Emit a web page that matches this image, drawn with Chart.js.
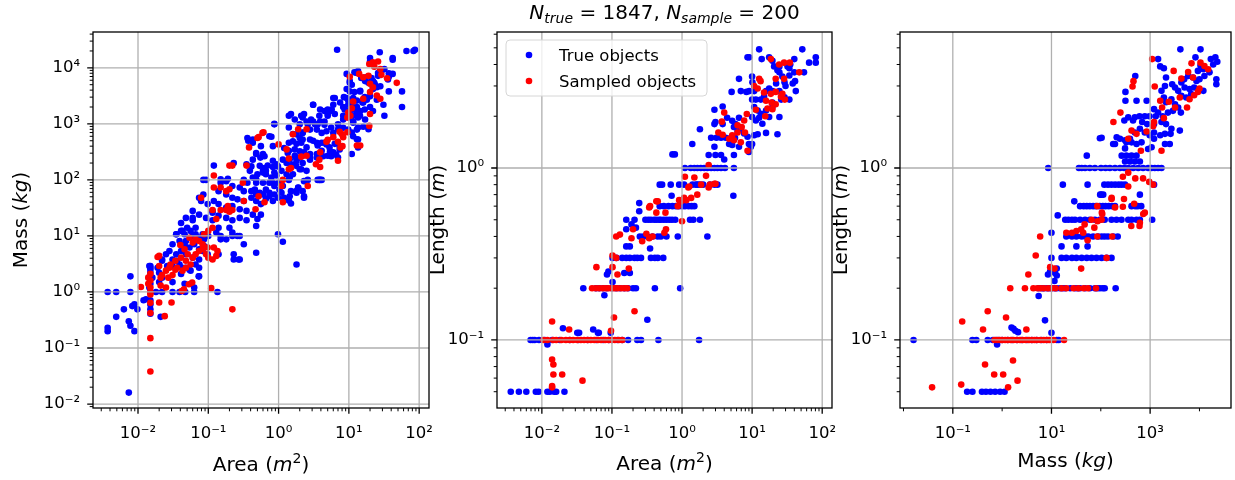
<!DOCTYPE html>
<html>
<head>
<meta charset="utf-8">
<script src="https://cdn.jsdelivr.net/npm/chart.js@4/dist/chart.umd.min.js"></script>
<style>
  body { margin: 0; background: #fff; }
  #wrap { position: relative; width: 1235px; height: 480px; overflow: hidden; }
  canvas { position: absolute; top: 0; }
</style>
</head>
<body>
<div id="wrap">
  <canvas id="c1" width="431" height="480" style="left:3px"></canvas>
  <canvas id="c2" width="430" height="480" style="left:407px"></canvas>
  <canvas id="c3" width="425" height="480" style="left:810px"></canvas>
</div>
<script>
// axis ranges and tick labels
const areaRange = [0.00229, 138];
const massRange = [0.0085, 43600];
const lengthRange = [0.0402, 6.18];
const areaTicks = [1e-2, 1e-1, 1, 10, 100];
const massTicks = [1e-2, 1e-1, 1, 10, 100, 1e3, 1e4];
const massTicksWide = [1e-1, 10, 1e3];
const massMinorWide = [1e-2, 1, 100, 1e4];
const lengthTicks = [0.1, 1];
const seriesNames = ['True objects', 'Sampled objects'];
const titleCounts = { nTrue: 1847, nSample: 200 };

// Area (m^2) vs Mass (kg)
const areaMassTrue = [
  [6.8,2.1e4],[27.5,1.9e4],[66,2e4],[83,2e4],[87,2.1e4],[20,1.5e4],[20,1.3e4],[42,1.5e4],[42,1.4e4],[32,9.5e3],
  [37,8e3],[42,7.8e3],[37,6.9e3],[28,8.9e3],[26,7.2e3],[9.3,7.8e3],[12,8.3e3],[13.5,8.8e3],[15,6.6e3],[17,5.8e3],
  [17.5,6.8e3],[22,5.8e3],[23.5,5e3],[22,4.2e3],[25,4.5e3],[10.3,5.8e3],[11,5e3],[9.3,4.2e3],[12,3.7e3],[14.5,3.9e3],
  [16.8,3e3],[20,3.1e3],[15.6,2.4e3],[37,3.8e3],[57,3.8e3],[57,2e3],[25,2.7e3],[31,2.2e3],[32,1.4e3],[6,2.9e3],
  [7.5,2.4e3],[8.5,3e3],[9.8,2.6e3],[11.5,2.9e3],[13,2.6e3],[8.3,2e3],[9.8,1.7e3],[11,2.1e3],[13,2e3],[14.5,1.7e3],
  [16.8,1.8e3],[20,2e3],[22,1.7e3],[3.1,2.2e3],[4.5,1.7e3],[5,1.8e3],[5.7,1.8e3],[3.8,1.4e3],[5,1.4e3],[6.3,1.5e3],
  [1.4,1.4e3],[1.7,1.2e3],[2.1,1.4e3],[2.5,1.1e3],[2.9,1.2e3],[3.3,980],[3.9,1.1e3],[4.5,960],[5.6,860],[7,980],
  [8.3,1.2e3],[9.8,1.3e3],[11.5,1.05e3],[13.5,860],[16,890],[19,800],[11,700],[13,530],[13.5,380],[11,290],[11.5,1.4e3],
  [21,6.6e3],[26,8.1e3],[29,8.7e3],[19,5.4e3],[23,5.4e3],[22,4.4e3],[28,4.7e3],[36,6.2e3],[10.3,5.4e3],[10.3,3.8e3],
  [13,8.1e3],[14.4,3.8e3],[18,2.7e3],[16,2.4e3],[11.5,2.7e3],[9.3,2.9e3],[9.8,2.2e3],[8.7,1.8e3],[11.5,1.8e3],[13,1.6e3],
  [14.4,1.4e3],[10.3,1.5e3],[8.3,1.4e3],[6.3,2.9e3],[6,2.2e3],[5.4,1.7e3],[5,1.5e3],[3.9,1.8e3],[3.1,2.2e3],[4.5,1.1e3],
  [3.6,980],[3.1,1.1e3],[2.3,1.5e3],[2.2,1.3e3],[2.6,980],[2,980],[1.5,1.5e3],[0.87,1e3],[2.2,690],[2.8,790],
  [3.5,790],[4.1,690],[4.8,740],[6,690],[7,790],[8.3,850],[9.8,790],[11.5,1.1e3],[13.5,1.3e3],[17,1.2e3],
  [13,790],[13.5,525],[11.5,600],[7.4,400],[5.4,325],[4.8,430],[4.1,460],[3.5,460],[2.8,525],[2.2,525],
  [1.8,650],[1.6,490],[1.4,460],[1.2,370],[1.7,350],[2,325],[1.8,245],[1.6,187],[2.2,200],[2.8,230],
  [4.3,265],[5.6,265],[6.6,282],[1.35,302],[1.15,230],[0.98,174],[0.87,135],[0.63,163],[0.6,135],[0.48,102],
  [0.46,67],[0.54,59],[0.66,67],[0.83,89],[1.03,67],[0.74,51],[1.44,110],[1.9,72],[2.3,95],[3.6,100],
  [4.1,100],[1.44,51],[1.8,59],[0.43,525],[0.48,302],[0.56,400],[0.74,600],[0.83,400],[0.63,265],[0.41,174],
  [0.87,980],[0.36,560],[0.37,500],[0.43,460],[0.79,590],[1.4,860],[1.6,660],[2,560],[2.2,700],[1.8,440],
  [2.1,460],[2.5,380],[3.1,500],[3.6,410],[4.5,460],[5.3,380],[6.3,440],[7.4,350],[1.4,330],[1.7,270],
  [2,250],[2.3,310],[2.8,250],[3.5,290],[4.1,330],[5,270],[6,310],[7,250],[1.3,200],[1.5,180],
  [1.8,220],[2,155],[1.6,126],[1.3,126],[1.4,100],[2.6,100],[3.8,100],[1.5,63],[1.9,73],[2.2,63],
  [1.4,43],[1.5,38],[2.3,48],[1.44,234],[1.78,250],[2.2,270],[2.8,290],[3.5,250],[1.78,178],[2.1,155],
  [2.5,145],[3.9,100],[1.78,63],[2.3,51],[0.48,290],[0.6,290],[0.43,230],[0.55,250],
  [0.83,220],[0.93,190],[0.83,170],[0.7,180],[0.6,145],[0.5,126],[0.66,126],[0.79,110],[0.93,120],[1.1,145],
  [0.39,145],[0.43,110],[0.36,89],[0.32,100],[0.48,89],[0.6,89],[0.74,89],[0.87,78],[1.0,89],[1.15,78],
  [0.23,200],[0.12,180],[0.085,100],[0.093,100],[0.18,95],[0.15,89],[0.22,78],[0.28,73],[0.32,63],[0.41,63],
  [0.48,55],[0.6,55],[0.74,59],[0.87,55],[1.1,59],[1.2,48],[0.14,63],[0.18,55],[0.22,48],[0.26,45],
  [0.32,42],[0.41,48],[0.48,42],[0.56,37],[0.66,46],[0.83,42],[0.98,48],[0.12,42],[0.14,37],[0.18,32],
  [0.22,34],[0.28,30],[0.35,28],[0.43,24],[0.5,20],[0.56,24],[0.48,15],[0.115,28],[0.14,23],[0.18,21],
  [0.22,19],[0.28,21],[0.35,19],[0.2,14],[0.22,11.5],[0.14,14],[0.115,19],[0.093,21],[0.074,24],[0.06,19],
  [0.083,10.7],[0.06,28],[0.079,42],[0.085,55],[0.06,21],[0.05,14],[0.041,12.3],[0.035,10.7],[0.046,10.7],[0.056,12.3],
  [0.066,10.7],[0.074,9.3],[0.087,8.7],[0.1,10],[0.13,11.5],[0.15,10],[0.18,8.7],[0.22,10],[0.26,10],[0.28,10],
  [0.15,102],[0.19,105],[0.35,190],[0.54,178],[0.66,145],[0.115,26],[0.098,37],[0.074,48],[0.048,21],[0.041,17],
  [0.32,7.1],[0.48,5],[0.23,4.7],[0.28,3.8],[0.98,10.7],[1.15,7.9],[1.8,3.1],[0.031,7.1],[0.039,8.1],[0.046,7.1],
  [0.054,6.2],[0.063,7.1],[0.074,5.8],[0.087,6.6],[0.098,4.7],[0.074,3.8],[0.06,4.1],[0.048,4.7],[0.041,5.4],[0.035,4.7],
  [0.031,3.8],[0.039,3.1],[0.048,2.7],[0.056,2.4],[0.074,2.7],[0.073,1.9],[0.025,4.7],[0.022,3.6],[0.026,2.9],[0.019,2.7],
  [0.02,2.2],[0.015,2.9],[0.015,2.5],[0.031,1.5],[0.041,2.1],[0.046,1.4],[0.063,1.2],[0.035,10.7],[0.043,12.3],[0.048,8.1],
  [0.06,10],[0.066,14],[0.079,8.1],[0.083,5.4],[0.066,3.1],[0.054,2.5],[0.043,2.7],[0.036,3.6],[0.031,2.9],[0.028,5.4],
  [0.022,1.8],[0.02,1.5],[0.016,1.8],[0.015,2.7],[0.022,3.8],[0.15,8.7],[0.14,4.7],[0.074,1.9],[0.23,3.8],[0.27,3.8],
  [0.0145,2.9],[0.015,2.2],[0.015,1.7],[0.015,1.4],[0.0145,1.2],
  [0.0037,1],[0.0049,1],[0.0078,1],[0.015,1],[0.018,1],[0.022,1],[0.031,1],[0.039,1],[0.047,1],[0.063,1],[0.135,1],
  [0.0078,1.9],[0.013,0.74],[0.012,0.71],[0.015,0.71],[0.015,0.6],[0.0089,0.6],[0.0098,0.49],[0.0063,0.49],[0.0049,0.36],[0.0083,0.56],
  [0.0074,0.3],[0.0078,0.25],[0.0037,0.23],[0.0037,0.2],[0.0089,0.2],[0.015,0.49],[0.015,0.41],[0.021,0.36],[0.0074,0.016]
];
const areaMassSampled = [
  [0.015,0.038],[0.015,0.15],[0.015,0.42],[0.024,0.37],[0.03,0.65],[0.02,0.65],[0.22,0.49],[0.11,1.17],[0.011,1.23],[0.014,1.8],
  [0.014,1.4],[0.015,1.2],[0.015,1.0],[0.015,0.9],[0.015,0.64],[0.015,2.1],[0.015,1.6],[0.019,4.2],[0.021,1.8],[0.022,2],
  [0.025,2.4],[0.028,2.7],[0.031,2],[0.021,1.3],[0.025,1.2],[0.029,3.1],[0.034,3.6],[0.041,4.1],[0.048,3.6],[0.056,3.1],
  [0.04,6.9],[0.046,5.8],[0.051,4.7],[0.06,4.1],[0.048,2.7],[0.043,2.4],[0.036,2.7],[0.02,4.4],[0.02,2.9],[0.034,2.5],
  [0.027,1.8],[0.053,1.37],[0.059,1.47],[0.045,1.12],[0.042,1.04],[0.066,4.7],[0.074,5.4],[0.083,5.8],[0.093,4.7],[0.1,4.1],
  [0.115,3.8],[0.13,4.4],[0.135,5.4],[0.12,6.2],[0.098,6.2],[0.083,7.1],[0.074,8.1],[0.066,8.7],[0.06,7.6],[0.054,9.3],
  [0.087,10.7],[0.1,12.3],[0.115,14],[0.13,20],[0.115,29],[0.12,73],[0.12,120],[0.079,48],[0.15,29],[0.18,29],
  [0.2,27],[0.19,34],[0.22,29],[0.15,73],[0.18,63],[0.2,68],[0.2,180],[0.22,180],[0.35,180],[0.38,380],
  [0.52,580],[0.61,710],[0.31,89],[0.32,42],[0.47,30],[0.63,40],[0.52,51],[1.15,40],[1.0,430],[1.3,350],
  [1.6,650],[1.9,800],[2.5,800],[1.4,155],[2.1,260],[2.5,270],[3.4,190],[3.9,170],[3.8,230],[3.9,310],
  [4.8,480],[6,580],[7,480],[7.6,380],[8.3,580],[9.5,710],[7.9,660],[9.5,1300],[9.8,1600],[10.5,1400],
  [11,1900],[13,410],[14.5,410],[19.5,920],[20,1500],[7,220],[8.1,400],[5,520],[7.4,720],[1.4,240],
  [1.5,163],[1.15,100],[1.1,78],[2.6,78],[0.59,690],[0.5,560],
  [10.3,6900],[14,7800],[16,6800],[19,7200],[20,5200],[22,4500],[25,3200],[28,2800],[19.5,1.17e4],[22,1.25e4],
  [26,1.3e4],[23,1.05e4],[28,9500],[29,7500],[35,6500],[48,5400],[16,2800],[20,3700],[11.5,2500]
];

// Area (m^2) vs Length (m)
const areaLengthTrue = [
  [0.0036,0.05],[0.0047,0.05],[0.006,0.05],[0.0082,0.05],[0.009,0.05],[0.012,0.05],[0.013,0.05],[0.015,0.05],[0.016,0.05],[0.021,0.05],
  [0.0069,0.1],[0.0074,0.1],[0.0079,0.1],[0.0091,0.1],[0.011,0.1],[0.014,0.1],[0.018,0.1],[0.025,0.1],[0.033,0.1],[0.045,0.1],
  [0.06,0.1],[0.075,0.1],[0.09,0.1],[0.1,0.1],[0.12,0.1],[0.14,0.1],[0.17,0.1],[0.23,0.1],[0.26,0.1],[0.46,0.1],[1.75,0.1],
  [0.012,0.094],[0.02,0.117],[0.032,0.11],[0.034,0.11],[0.054,0.115],[0.063,0.11],[0.065,0.11],[0.096,0.11],[0.32,0.131],
  [0.039,0.2],[0.059,0.2],[0.066,0.2],[0.075,0.2],[0.085,0.2],[0.1,0.2],[0.115,0.2],[0.13,0.2],[0.15,0.2],[0.17,0.2],
  [0.2,0.2],[0.22,0.2],[0.41,0.2],[0.94,0.2],[0.078,0.182],[0.102,0.217],[0.085,0.24],[0.089,0.25],[0.15,0.245],[0.18,0.245],
  [0.102,0.3],[0.116,0.3],[0.14,0.3],[0.16,0.3],[0.18,0.3],[0.21,0.3],[0.23,0.3],[0.26,0.3],[0.36,0.3],[0.41,0.3],
  [0.45,0.3],[0.54,0.3],[0.16,0.35],[0.18,0.35],[0.35,0.34],
  [0.25,0.4],[0.28,0.4],[0.32,0.4],[0.38,0.4],[0.45,0.4],[0.5,0.4],[0.6,0.4],[0.87,0.4],[2.3,0.4],
  [0.16,0.44],[0.16,0.5],[0.19,0.47],[0.22,0.45],[0.21,0.5],[0.245,0.56],[0.245,0.625],[0.71,0.69],
  [0.3,0.5],[0.33,0.5],[0.36,0.5],[0.4,0.5],[0.43,0.5],[0.47,0.5],[0.5,0.5],[0.55,0.5],[0.6,0.5],[0.66,0.5],
  [0.72,0.5],[0.8,0.5],[1.3,0.5],[1.45,0.5],[1.8,0.5],
  [0.48,0.6],[0.55,0.6],[0.64,0.6],[0.73,0.6],[0.82,0.6],[0.9,0.6],[1.0,0.6],[1.1,0.6],[1.24,0.6],[1.37,0.6],[1.5,0.6],[5.4,0.69],
  [0.48,0.8],[0.52,0.8],[0.69,0.8],[0.91,0.8],[1.07,0.8],[1.41,0.8],[1.58,0.8],[1.66,0.8],[1.78,0.8],[2.0,0.8],
  [2.5,0.8],[2.9,0.8],[3.2,0.8],
  [1.1,1],[1.33,1],[1.5,1],[1.66,1],[1.85,1],[2.07,1],[2.3,1],[2.6,1],[2.9,1],[3.2,1],[3.6,1],[4.1,1],[5.5,1],
  [0.73,1.2],[0.79,1.2],[1.4,1.38],[1.8,1.68],[2.4,1.19],[2.9,1.33],[3,1.19],[3.6,1.19],[4,1.12],[2.6,1.5],
  [3.1,1.5],[3.6,1.5],[4.2,1.5],[5,1.5],[5.7,1.5],[2.9,2.18],[3.8,2.28],[2.9,1.8],[4.4,1.96],[5.2,1.88],
  [5.8,1.8],[6.5,1.96],[5.5,1.73],[6.2,1.64],[6.9,1.69],[7.7,1.59],[8.6,1.52],[9,1.38],[10,1.38],[4.7,1.38],
  [5.2,1.36],[6.5,1.33],[5.5,1.19],[9,1.24],[9.6,1.33],[6.9,2.8],[9.1,2.8],[10.1,3.15],[9.1,4.4],[12.6,4.9],
  [13.7,4.3],[6.5,3.3],[10,3.4],[10.7,2.8],[17.5,4.4],[19.5,4.2],[20.6,3.9],[23,3.7],[24.5,3.6],[27,3.4],
  [29,3.15],[30,3.0],[34,3.45],[40,3.6],[41,3.2],[38,3.1],[42,2.8],[22,3.1],[19.5,2.8],[17.5,2.9],
  [15.8,2.8],[14.8,2.6],[13.3,2.5],[11.3,2.5],[10.7,2.26],[12,2.16],[13.3,2.07],[12.6,1.96],[11.3,1.89],[10,1.98],
  [14,1.81],[12,1.57],[23,1.57],[24.5,2.8],[29,2.58],[34,2.5],[26,2.5],[19.5,2.4],[17.5,1.98],[19.5,2.26],
  [24.5,1.98],[15.8,2.16],[52,4.9],[65,4.1],[81,4.4],[81,4.1],[40,4.3],[35,4.0],[34,3.8],[32,3.9],
  [55,3.6],[24.5,3.9],[15.8,1.6],[10.7,1.55],[10,2.5],[5.1,2.77],[8.3,2.77],[3.0,1.85],[3.8,1.8],[8.6,4.4]
];
const areaLengthSampled = [
  [0.0105,0.1],[0.012,0.1],[0.0145,0.1],[0.016,0.1],[0.019,0.1],[0.022,0.1],[0.025,0.1],[0.028,0.1],[0.032,0.1],[0.036,0.1],
  [0.04,0.1],[0.045,0.1],[0.05,0.1],[0.056,0.1],[0.063,0.1],[0.07,0.1],[0.08,0.1],[0.09,0.1],[0.1,0.1],[0.11,0.1],
  [0.125,0.1],[0.14,0.1],
  [0.014,0.077],[0.0146,0.072],[0.0146,0.063],[0.0195,0.063],[0.038,0.058],[0.014,0.054],[0.014,0.053],[0.014,0.128],[0.0245,0.115],[0.107,0.135],
  [0.21,0.147],[0.097,0.113],
  [0.052,0.2],[0.059,0.2],[0.066,0.2],[0.074,0.2],[0.082,0.2],[0.09,0.2],[0.1,0.2],[0.11,0.2],[0.12,0.2],[0.135,0.2],
  [0.15,0.2],[0.165,0.2],[0.102,0.265],[0.06,0.265],[0.12,0.24],[0.174,0.26],[0.102,0.31],[0.115,0.3],
  [0.115,0.4],[0.13,0.41],[0.19,0.39],[0.2,0.44],[0.27,0.375],[0.31,0.415],[0.38,0.4],[0.34,0.39],[0.59,0.44],[0.56,0.42],
  [1.0,0.49],[0.34,0.59],[0.43,0.55],[0.45,0.64],[0.58,0.55],[0.87,0.6],[0.97,0.64],[1.15,0.65],[1.35,0.67],[1.65,0.7],
  [0.35,0.6],[0.43,0.64],[1.27,0.78],[1.87,0.8],[2.9,0.81],[2.5,0.8],
  [18.5,4.3],[24.3,4.0],[28.6,4.1],[34.5,4.1],[47,3.6],[21.7,3.3],[28.6,3.3],[12.6,3.3],[13.2,3.2],[10.7,3.0],
  [12,2.9],[14.8,2.75],[18.5,2.7],[21.7,2.77],[27,2.7],[25.8,2.6],[15.8,2.46],[19,2.4],[29.3,2.5],[16.6,2.22],
  [19.5,2.2],[21.7,2.35],[11.3,2.18],[15.4,2.0],[8.4,2.06],[7.7,1.89],[7.1,1.73],[7.9,1.61],[6.2,1.77],[5.2,1.55],
  [4.7,1.48],[5.5,1.45],[6.2,1.61],[8.6,1.26],[6.9,1.41],[4,2.1],[3.7,1.86],[3.3,1.61],[3.8,1.56],[2.4,1.04],
  [1.1,0.89],[1.5,0.88],[2.2,0.9],[3,0.81],[2.4,0.77],[1.23,0.77],[1.07,0.67],[0.91,0.65]
];

// Mass (kg) vs Length (m)
const massLengthTrue = [
  [0.195,0.05],[0.25,0.05],[0.39,0.05],[0.47,0.05],[0.58,0.05],[0.72,0.05],[0.91,0.05],[1.12,0.05],
  [0.016,0.1],[0.25,0.1],[0.3,0.1],[0.51,0.1],[0.65,0.1],[0.75,0.1],[0.85,0.1],[1,0.1],[1.3,0.1],[1.6,0.1],
  [2,0.1],[2.5,0.1],[3.2,0.1],[4,0.1],[5,0.1],[6.3,0.1],[8,0.1],[10,0.1],[12.8,0.1],[14,0.1],
  [0.79,0.094],[1.55,0.118],[1.7,0.116],[1.85,0.113],[2.1,0.111],[7.4,0.13],[10,0.11],
  [5.5,0.2],[6.4,0.2],[7,0.2],[8.1,0.2],[9,0.2],[10,0.2],[11.5,0.2],[12.8,0.2],[15,0.2],[17,0.2],
  [19,0.2],[24,0.2],[30,0.2],[34,0.2],[38,0.2],[48,0.2],[60,0.2],[76,0.2],[85,0.2],[96,0.2],
  [110,0.2],[120,0.2],[200,0.2],[5.5,0.18],[8.5,0.24],[9.4,0.25],[11.8,0.245],[12.8,0.26],[12.8,0.237],[11.5,0.22],[10,0.42],
  [10,0.3],[16,0.3],[20,0.3],[26,0.3],[32,0.3],[41,0.3],[52,0.3],[65,0.3],[82,0.3],[104,0.3],
  [131,0.3],[165,0.3],[16,0.35],[32,0.35],[54,0.35],
  [20,0.4],[26,0.4],[32,0.4],[41,0.4],[49,0.4],[56,0.4],[70,0.4],[88,0.4],[104,0.4],[120,0.4],[140,0.4],[180,0.4],[220,0.4],
  [13.4,0.53],[19,0.5],[22,0.5],[26,0.5],[30,0.5],[38,0.5],[48,0.5],[60,0.5],[76,0.5],[96,0.5],
  [120,0.5],[165,0.5],[208,0.5],[263,0.5],[360,0.5],[420,0.5],[530,0.5],[620,0.5],[1100,0.5],
  [38,0.6],[45,0.6],[52,0.6],[60,0.6],[70,0.6],[80,0.6],[95,0.6],[110,0.6],[125,0.6],[145,0.6],
  [170,0.6],[194,0.6],[420,0.6],[500,0.6],[560,0.6],[660,0.6],[29,0.64],[102,0.7],[97,0.7],[112,0.7],[620,0.7],
  [17,0.8],[54,0.8],[118,0.8],[140,0.8],[165,0.8],[195,0.8],[230,0.8],[265,0.8],[310,0.8],[1200,0.8],
  [8.6,1],[36,1],[41,1],[48,1],[60,1],[76,1],[101,1],[125,1],[153,1],[194,1],
  [245,1],[297,1],[360,1],[455,1],[575,1],[720,1],[910,1],[1070,1],[1240,1],[1450,1],[1700,1],
  [310,1.09],[390,1.09],[490,1.09],[620,1.09],[265,1.18],[330,1.18],[420,1.18],[530,1.18],[52,1.18],[104,1.5],[178,1.38],
  [4100,4.9],[1.05e4,4.9],[1450,4.3],[1600,3.9],[8300,4.4],[1.7e4,4.3],[2.1e4,4.4],[2.3e4,4.15],[1.9e4,4.0],[1.05e4,3.95],
  [1.2e4,3.75],[9300,3.67],[1.26e4,3.43],[1e4,3.28],[8700,3.21],[7400,3.36],[5900,3.43],[4900,3.28],[4300,3.14],[5000,2.94],
  [6300,2.88],[7800,2.94],[1.2e4,2.81],[6800,2.69],[5400,2.57],[4300,2.63],[3700,2.81],[3200,2.94],[2800,3.07],[2100,3.36],
  [2000,3.0],[1700,2.81],[1900,2.57],[2100,2.41],[2700,2.51],[3200,2.35],[3700,2.25],[4200,2.1],[2900,2.15],[2300,2.1],
  [1800,2.0],[1450,2.1],[1200,2.2],[970,2.0],[780,2.0],[610,2.0],[490,1.97],[450,1.89],[360,1.97],[300,1.89],
  [690,1.85],[870,1.8],[1200,1.8],[1700,1.85],[2100,1.8],[2700,1.69],[2600,1.58],[2000,1.58],[1600,1.55],[1200,1.61],
  [980,1.55],[780,1.61],[620,1.69],[490,1.61],[390,1.48],[310,1.45],[245,1.48],[210,1.51],[1200,1.48],[2000,1.38],
  [2500,1.38],[1070,1.32],[910,1.29],[670,1.41],[530,1.38],[420,1.41],[330,1.41],[194,1.38],[96,1.49],[310,1.3],
  [316,2.77],[316,2.46],[530,2.46],[850,2.46],[500,3.43],[1300,2.0],[4000,1.65],[2.2e4,3.28],[2.2e4,3.07],[1.6e4,3.6],[1900,3.8]
];
const massLengthSampled = [
  [0.038,0.053],[0.148,0.055],[1.32,0.053],[0.45,0.072],[0.69,0.063],[1.05,0.063],[1.66,0.076],[2.05,0.058],[0.155,0.128],[0.51,0.147],
  [0.41,0.115],[1.2,0.135],[3.1,0.115],
  [0.7,0.1],[0.8,0.1],[0.9,0.1],[1.0,0.1],[1.15,0.1],[1.3,0.1],[1.5,0.1],[1.7,0.1],[2,0.1],[2.3,0.1],
  [2.6,0.1],[3,0.1],[3.5,0.1],[4,0.1],[4.5,0.1],[5,0.1],[6,0.1],[7,0.1],[8,0.1],[9,0.1],[11,0.1],[18,0.1],
  [1.46,0.2],[2.9,0.2],[4.3,0.2],[5.2,0.2],[6,0.2],[7,0.2],[8.5,0.2],[10,0.2],[12,0.2],[16,0.2],
  [20,0.2],[28,0.2],[35,0.2],[45,0.2],[55,0.2],[80,0.2],
  [9.4,0.265],[11.5,0.26],[3.4,0.24],[4.8,0.31],[5.9,0.4],[40,0.26],[131,0.3],
  [85,0.4],[170,0.4],[32,0.43],[40,0.44],[47,0.47],[54,0.38],[20,0.42],[26,0.42],[65,0.5],[104,0.5],[620,0.48],
  [165,0.66],[295,0.66],[475,0.62],[780,0.55],[105,0.55],[415,0.46],[610,0.46],[85,0.6],[74,0.45],[44,0.42],
  [280,0.89],[360,0.94],[500,0.87],[720,0.87],[960,0.83],[1150,0.8],[360,0.78],[166,0.67],[725,0.54],[107,0.54],
  [86,0.49],[194,0.59],[280,0.595],
  [1100,4.3],[460,3.2],[440,2.98],[1240,2.98],[3000,3.67],[4300,3.31],[6900,4.06],[5900,3.62],[7400,3.36],[1.05e4,4.1],
  [1.26e4,3.92],[1.5e4,3.75],[1e4,2.9],[9300,2.77],[7800,2.65],[6300,2.51],[5600,2.25],[4000,2.57],[3200,2.25],[2400,2.43],
  [1600,2.46],[1750,2.25],[1900,1.95],[250,2.1],[180,1.85],[420,1.65],[360,1.48],[530,1.58],[850,1.63],[650,1.26],
  [1700,1.26],[1150,1.75],[1200,1.85]
];

const BLUE = '#0000ff', RED = '#ff0000';
const FONT = '"DejaVu Sans"';
const SUP = {'-': '\u207b', '0': '\u2070', '1': '\u00b9', '2': '\u00b2', '3': '\u00b3', '4': '\u2074',
             '5': '\u2075', '6': '\u2076', '7': '\u2077', '8': '\u2078', '9': '\u2079'};

function decadeLabel(v) {
  const e = Math.round(Math.log10(v));
  return '10' + String(e).split('').map(c => SUP[c]).join('');
}

// 2..9 subdivisions inside each decade of a range (tick marks only)
function subTicks(range) {
  const out = [];
  const lo = Math.floor(Math.log10(range[0])), hi = Math.ceil(Math.log10(range[1]));
  for (let e = lo; e <= hi; e++) {
    for (let m = 2; m <= 9; m++) {
      const v = m * Math.pow(10, e);
      if (v >= range[0] && v <= range[1]) out.push(v);
    }
  }
  return out;
}

function logAxis(range, majors, pos) {
  return {
    type: 'logarithmic',
    position: pos,
    min: range[0],
    max: range[1],
    grid: { display: false, drawTicks: false },
    border: { display: false },
    ticks: {
      autoSkip: false, maxRotation: 0, minRotation: 0,
      padding: pos === 'left' ? 13 : 16,
      color: '#000',
      font: { family: 'DejaVu Sans', size: 16.5 },
      callback: v => decadeLabel(v)
    },
    afterBuildTicks: s => { s.ticks = majors.map(v => ({ value: v, major: true })); },
    afterFit: s => {
      if (pos === 'left') { s.width = 90; s.paddingTop = 0; s.paddingBottom = 0; }
      else { s.height = 72; s.paddingLeft = 0; s.paddingRight = 0; }
    }
  };
}

function drawRich(ctx, parts, x, y, rotate) {
  ctx.save();
  ctx.translate(x, y);
  if (rotate) ctx.rotate(-Math.PI / 2);
  ctx.textAlign = 'left';
  ctx.textBaseline = 'alphabetic';
  ctx.fillStyle = '#000';
  let total = 0;
  parts.forEach(p => { ctx.font = p[1]; total += ctx.measureText(p[0]).width; });
  let cx = -total / 2;
  parts.forEach(p => {
    ctx.font = p[1];
    ctx.fillText(p[0], cx, p[2] || 0);
    cx += ctx.measureText(p[0]).width;
  });
  ctx.restore();
}

const R20 = '20px ' + FONT, I20 = 'italic 20px ' + FONT, I14 = 'italic 14px ' + FONT, R14 = '14px ' + FONT;
const labelArea = [['Area (', R20], ['m', I20], ['2', R14, -8], [')', R20]];
const labelMass = [['Mass (', R20], ['kg', I20], [')', R20]];
const labelLength = [['Length (', R20], ['m', I20], [')', R20]];

const decorSettings = {
  c1: { xMajor: areaTicks, xMinor: subTicks(areaRange), yMajor: massTicks, yMinor: subTicks(massRange),
        xLabel: labelArea, xLabelY: 471, yLabel: labelMass, yLabelX: 23.5 },
  c2: { xMajor: areaTicks, xMinor: subTicks(areaRange), yMajor: lengthTicks, yMinor: subTicks(lengthRange),
        xLabel: labelArea, xLabelY: 470, yLabel: labelLength, yLabelX: 36.5, title: true, legend: true },
  c3: { xMajor: massTicksWide, xMinor: massMinorWide, yMajor: lengthTicks, yMinor: subTicks(lengthRange),
        xLabel: labelMass, xLabelY: 467, yLabel: labelLength, yLabelX: 36.5 }
};

const decor = {
  id: 'decor',
  afterDatasetsDraw(chart) {
    const o = decorSettings[chart.canvas.id];
    const { ctx, chartArea: a } = chart;
    const x = chart.scales.x, y = chart.scales.y;
    ctx.save();
    // grid sits above the markers, as in the original
    ctx.strokeStyle = '#b0b0b0';
    ctx.lineWidth = 1.3;
    ctx.beginPath();
    o.xMajor.forEach(v => { const p = x.getPixelForValue(v); ctx.moveTo(p, a.top); ctx.lineTo(p, a.bottom); });
    o.yMajor.forEach(v => { const p = y.getPixelForValue(v); ctx.moveTo(a.left, p); ctx.lineTo(a.right, p); });
    ctx.stroke();
    // tick marks
    ctx.strokeStyle = '#000';
    const marks = (vals, len, w, horiz) => {
      ctx.lineWidth = w;
      ctx.beginPath();
      vals.forEach(v => {
        if (horiz) { const p = x.getPixelForValue(v); ctx.moveTo(p, a.bottom); ctx.lineTo(p, a.bottom + len); }
        else { const p = y.getPixelForValue(v); ctx.moveTo(a.left, p); ctx.lineTo(a.left - len, p); }
      });
      ctx.stroke();
    };
    marks(o.xMajor, 5.8, 1.3, true);
    marks(o.xMinor, 3.3, 1.0, true);
    marks(o.yMajor, 5.8, 1.3, false);
    marks(o.yMinor, 3.3, 1.0, false);
    // frame
    ctx.lineWidth = 1.3;
    ctx.strokeRect(a.left, a.top, a.right - a.left, a.bottom - a.top);
    ctx.restore();
  },
  afterDraw(chart) {
    const o = decorSettings[chart.canvas.id];
    const { ctx, chartArea: a } = chart;
    drawRich(ctx, o.xLabel, (a.left + a.right) / 2, o.xLabelY, false);
    drawRich(ctx, o.yLabel, o.yLabelX, (a.top + a.bottom) / 2, true);
    if (o.title) {
      drawRich(ctx, [
        ['N', I20], ['true', I14, 4], [' = ' + titleCounts.nTrue + ', ', R20],
        ['N', I20], ['sample', I14, 4], [' = ' + titleCounts.nSample, R20]
      ], (a.left + a.right) / 2, 19, false);
    }
    if (o.legend) {
      const lx = a.left + 9, ly = a.top + 8, lw = 201, lh = 56;
      ctx.save();
      ctx.fillStyle = 'rgba(255,255,255,0.8)';
      ctx.strokeStyle = '#d6d6d6';
      ctx.lineWidth = 1;
      ctx.beginPath();
      ctx.roundRect(lx, ly, lw, lh, 4);
      ctx.fill();
      ctx.stroke();
      const ds = chart.data.datasets;
      ds.forEach((d, i) => {
        const cy = ly + 15 + i * 26;
        ctx.fillStyle = d.backgroundColor;
        ctx.beginPath();
        ctx.arc(lx + 23, cy, 3.3, 0, Math.PI * 2);
        ctx.fill();
        ctx.fillStyle = '#000';
        ctx.font = '16.5px ' + FONT;
        ctx.textBaseline = 'alphabetic';
        ctx.fillText(d.label, lx + 53, cy + 6);
      });
      ctx.restore();
    }
  }
};
Chart.register(decor);

const plotWidths = { c1: 336, c2: 335, c3: 334 };

function scatterChart(id, trueData, sampledData, xAxis, yAxis) {
  const canvas = document.getElementById(id);
  return new Chart(canvas, {
    type: 'scatter',
    data: {
      datasets: [
        { label: seriesNames[0], data: trueData, backgroundColor: BLUE, pointRadius: 3.3, pointBorderWidth: 0, order: 2 },
        { label: seriesNames[1], data: sampledData, backgroundColor: RED, pointRadius: 3.3, pointBorderWidth: 0, order: 1 }
      ]
    },
    options: {
      responsive: false,
      animation: false,
      devicePixelRatio: 1,
      events: [],
      layout: { padding: { left: 0, top: 32, right: canvas.width - 90 - plotWidths[id], bottom: 0 } },
      plugins: { legend: { display: false }, tooltip: { enabled: false } },
      scales: { x: xAxis, y: yAxis }
    }
  });
}

scatterChart('c1', areaMassTrue, areaMassSampled, logAxis(areaRange, areaTicks, 'bottom'), logAxis(massRange, massTicks, 'left'));
scatterChart('c2', areaLengthTrue, areaLengthSampled, logAxis(areaRange, areaTicks, 'bottom'), logAxis(lengthRange, lengthTicks, 'left'));
scatterChart('c3', massLengthTrue, massLengthSampled, logAxis(massRange, massTicksWide, 'bottom'), logAxis(lengthRange, lengthTicks, 'left'));
</script>
</body>
</html>
